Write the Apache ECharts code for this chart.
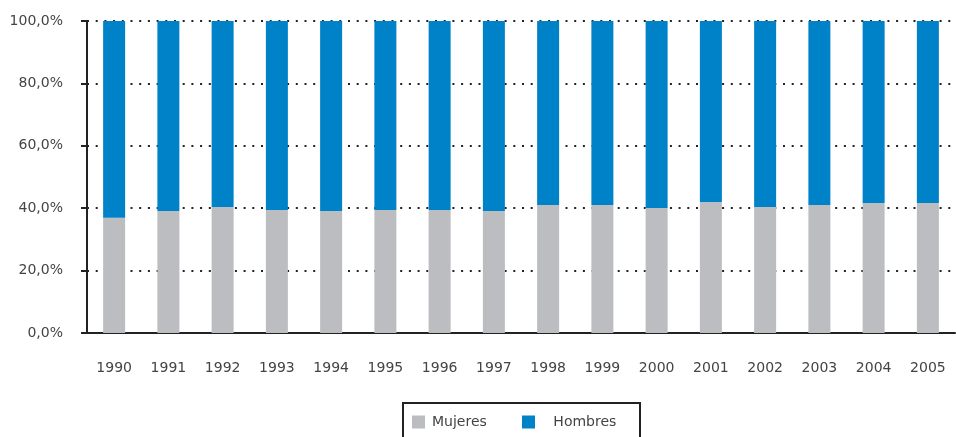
<!DOCTYPE html>
<html>
<head>
<meta charset="utf-8">
<script src="https://cdn.jsdelivr.net/npm/echarts@6/dist/echarts.min.js"></script>
<style>
    html, body { margin: 0; padding: 0; background: #fff; }
    #chart { width: 956px; height: 437px; }
</style>
</head>
<body>
<div id="chart"></div>
<script>
const years   = ["1990", "1991", "1992", "1993", "1994", "1995", "1996", "1997",
                 "1998", "1999", "2000", "2001", "2002", "2003", "2004", "2005"]
const mujeres = [36.9, 39.1, 40.4, 39.4, 39.1, 39.4, 39.4, 39.1,
                 41.0, 41.0, 40.1, 42.0, 40.4, 41.0, 41.7, 41.7]
const hombres = [63.1, 60.9, 59.6, 60.6, 60.9, 60.6, 60.6, 60.9,
                 59.0, 59.0, 59.9, 58.0, 59.6, 59.0, 58.3, 58.3]

const font = "DejaVu Sans"
const grey = "#bcbdc1"
const blue = "#0082c8"

const chart = echarts.init(document.getElementById("chart"))

// labels like "40,0%"
const pct = v => v.toFixed(1).replace(".", ",") + "%"

chart.setOption({
    animation: false,
    textStyle: { fontFamily: font },
    grid: { left: 87, right: 1, top: 21, bottom: 104 },
    legend: [
        {
            data: ["Mujeres"],
            left: 412, top: 415, padding: 0,
            icon: "rect", itemWidth: 13, itemHeight: 13,
            textStyle: { fontSize: 14, color: "#444", fontFamily: font, padding: [0, 0, 0, 2] },
        },
        {
            data: ["Hombres"],
            left: 522, top: 415, padding: 0,
            icon: "rect", itemWidth: 13, itemHeight: 13,
            formatter: name => "   " + name,
            textStyle: { fontSize: 14, color: "#444", fontFamily: font },
        },
    ],
    graphic: [{
        type: "rect",
        shape: { x: 403, y: 403, width: 237, height: 50 },
        style: { fill: null, stroke: "#222", lineWidth: 2 },
        silent: true,
    }],
    xAxis: {
        type: "category",
        data: years,
        axisLine: { lineStyle: { color: "#222", width: 2 } },
        axisTick: { length: 6, lineStyle: { color: "#222", width: 2 } },
        axisLabel: { margin: 28, fontSize: 14, color: "#444", fontFamily: font },
    },
    yAxis: {
        type: "value",
        min: 0, max: 100, interval: 20,
        axisLine: { show: true, lineStyle: { color: "#222", width: 2 } },
        axisTick: { show: true, length: 6, lineStyle: { color: "#222", width: 2 } },
        axisLabel: {
            margin: 24, fontSize: 14, color: "#444", fontFamily: font,
            formatter: pct, padding: [4, 0, 0, 0],
        },
        splitLine: { lineStyle: { color: "#222", width: 2, type: [2, 6.7] } },
    },
    series: [
        {
            name: "Mujeres", type: "bar", stack: "total",
            data: mujeres, barWidth: 22,
            itemStyle: { color: grey },
        },
        {
            name: "Hombres", type: "bar", stack: "total",
            data: hombres, barWidth: 22,
            itemStyle: { color: blue },
        },
    ],
})
</script>
</body>
</html>
